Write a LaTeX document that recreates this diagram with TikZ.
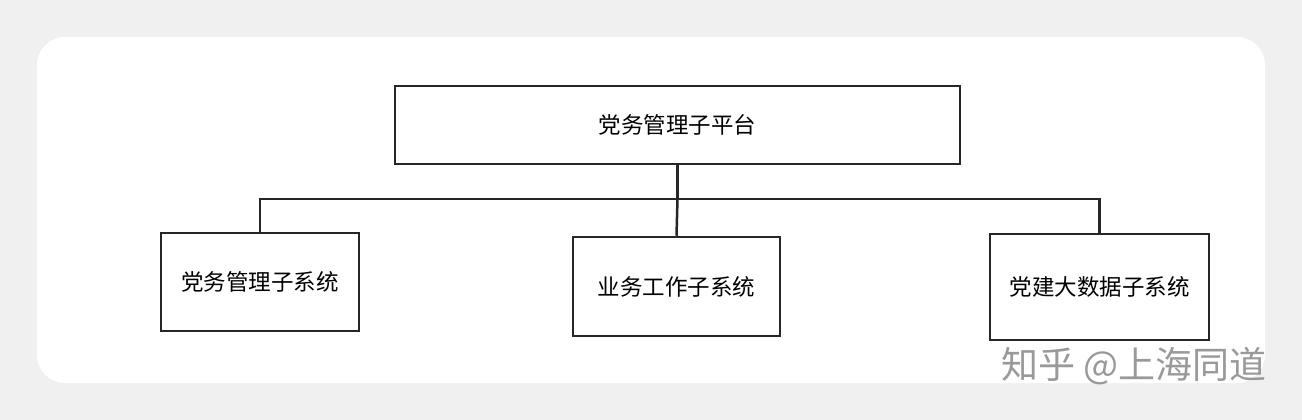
\documentclass[tikz,border=0pt]{standalone}
\usepackage{fontspec}
\newfontfamily\cjk{Noto Sans CJK SC}
\begin{document}
\begin{tikzpicture}[x=1pt,y=-1pt,
  box/.style={draw=black!85,line width=2.5pt,font=\cjk\fontsize{22.5}{26}\selectfont,inner sep=0pt},
  conn/.style={draw=black!85,line width=2.5pt}]
\fill[black!6] (0,0) rectangle (1302,420);
\useasboundingbox (0,0) rectangle (1302,420);
\fill[white,rounded corners=28pt] (37,37) rectangle (1265,383);
\node[box,minimum width=565pt,minimum height=78pt] (top) at (677.5,125) {党务管理子平台};
\node[box,minimum width=198pt,minimum height=98pt] (a) at (260,282) {党务管理子系统};
\node[box,minimum width=207pt,minimum height=99pt] (b) at (676.5,286.5) {业务工作子系统};
\node[box,minimum width=219pt,minimum height=106pt] (c) at (1099.5,287) {党建大数据子系统};
\coordinate (j) at (677.5,199);
\draw[conn] (top.south) -- (j);
\draw[conn] (a.north) |- (j) -| (c.north);
\draw[conn] (j) -- (b.north);
\node[font=\cjk\fontsize{37}{40}\selectfont,text=black!40,anchor=east] (wm) at (1270,366) {知乎 @上海同道};
\end{tikzpicture}
\end{document}
